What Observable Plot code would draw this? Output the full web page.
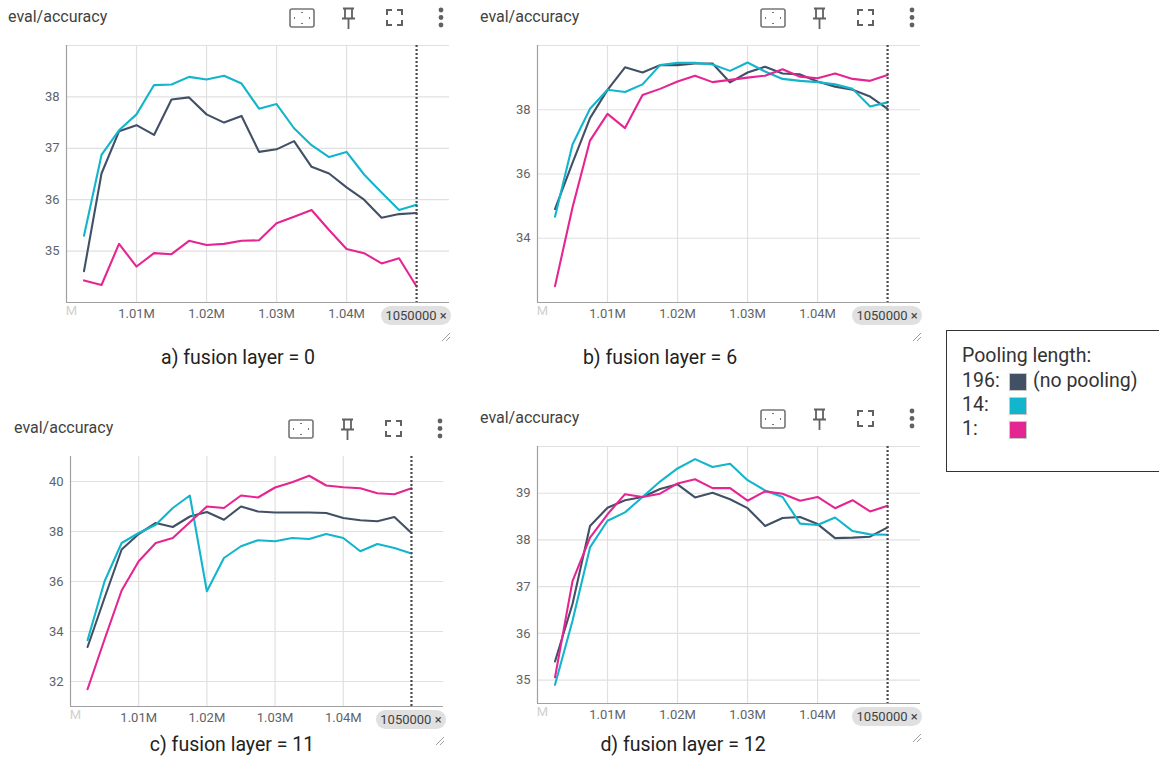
<!DOCTYPE html>
<html><head><meta charset="utf-8">
<script src="https://cdn.jsdelivr.net/npm/d3@7"></script>
<script src="https://cdn.jsdelivr.net/npm/@observablehq/plot@0.6"></script>
<style>
html,body{margin:0;padding:0;background:#fff;}
body{width:1159px;height:758px;position:relative;overflow:hidden;font-family:Roboto,"Noto Sans",sans-serif;}
.abs{position:absolute;}
.title{font-size:16px;color:#424242;white-space:nowrap;}
.cap{font-size:19.5px;color:#222;white-space:nowrap;transform:translate(-50%,-50%);}
.chip{background:#e0e0e0;border-radius:10px;font-size:13px;color:#424242;height:19px;line-height:19px;text-align:center;white-space:nowrap;}
.legend{border:1px solid #333;background:#fff;font-size:19.5px;color:#333;}
.sw{display:inline-block;width:16px;height:16px;border:1px solid #c8c8c8;}
</style></head><body>
<script>
const steps = [1002500,1005000,1007500,1010000,1012500,1015000,1017500,1020000,1022500,1025000,1027500,1030000,1032500,1035000,1037500,1040000,1042500,1045000,1047500,1050000];
const seriesNames = ["196", "14", "1"];
const seriesColors = ["#425066", "#12b5cb", "#e52592"];
const legendLabels = ["196:", "14:", "1:"];
const legendNotes = ["(no pooling)", "", ""];
const xTickValues = [1010000, 1020000, 1030000, 1040000];

const a196 = [34.61,36.51,37.33,37.45,37.26,37.95,37.99,37.66,37.50,37.63,36.93,36.98,37.14,36.64,36.51,36.24,36.00,35.65,35.72,35.74];
const a14  = [35.30,36.87,37.35,37.66,38.23,38.24,38.39,38.34,38.41,38.26,37.77,37.86,37.39,37.06,36.83,36.93,36.49,36.14,35.80,35.90];
const a1   = [34.43,34.34,35.14,34.70,34.96,34.94,35.20,35.12,35.14,35.20,35.21,35.54,35.67,35.80,35.41,35.04,34.96,34.76,34.86,34.31];

const b196 = [34.91,36.35,37.74,38.62,39.32,39.16,39.39,39.39,39.44,39.44,38.85,39.16,39.34,39.13,39.10,38.88,38.72,38.62,38.41,38.03];
const b14  = [34.67,36.92,38.03,38.62,38.55,38.79,39.39,39.46,39.46,39.41,39.21,39.47,39.19,38.96,38.90,38.86,38.79,38.65,38.10,38.23];
const b1   = [32.51,34.96,37.04,37.87,37.43,38.46,38.65,38.88,39.06,38.86,38.93,39.00,39.06,39.26,39.03,38.98,39.13,38.96,38.90,39.08];

const c196 = [33.38,35.35,37.28,37.90,38.34,38.18,38.60,38.78,38.47,39.00,38.80,38.76,38.76,38.76,38.74,38.54,38.45,38.41,38.58,37.94];
const c14  = [33.65,36.01,37.54,37.94,38.27,38.94,39.44,35.61,36.94,37.41,37.65,37.61,37.74,37.70,37.90,37.74,37.21,37.50,37.34,37.12];
const c1   = [31.69,33.69,35.64,36.81,37.54,37.74,38.37,39.00,38.94,39.44,39.36,39.76,39.97,40.23,39.84,39.77,39.73,39.53,39.49,39.73];

const d196 = [35.40,36.63,38.30,38.69,38.85,38.92,39.09,39.19,38.91,39.01,38.87,38.68,38.30,38.47,38.49,38.34,38.04,38.05,38.07,38.27];
const d14  = [34.90,36.27,37.84,38.41,38.59,38.92,39.25,39.53,39.73,39.56,39.63,39.28,39.06,38.92,38.35,38.32,38.48,38.19,38.12,38.11];
const d1   = [35.06,37.12,38.05,38.55,38.98,38.92,38.99,39.21,39.30,39.11,39.11,38.84,39.04,38.99,38.84,38.92,38.68,38.85,38.61,38.73];

const panels = [
  {title:"eval/accuracy", caption:"a) fusion layer = 0", vals:[a196,a14,a1], yDomain:[34,39], yTicks:[35,36,37,38], yGrid:[35,36,37,38,39],
   l:66, t:45, r:449, b:302, tx:8, ty:17, icx:289, icy:7, capx:238, capy:357},
  {title:"eval/accuracy", caption:"b) fusion layer = 6", vals:[b196,b14,b1], yDomain:[32,40], yTicks:[34,36,38], yGrid:[34,36,38,40],
   l:537, t:45, r:920, b:302, tx:480, ty:17, icx:760, icy:7, capx:660, capy:357},
  {title:"eval/accuracy", caption:"c) fusion layer = 11", vals:[c196,c14,c1], yDomain:[31,41], yTicks:[32,34,36,38,40], yGrid:[32,34,36,38,40],
   l:70, t:456, r:443, b:706, tx:14, ty:428, icx:288, icy:418, capx:232, capy:744},
  {title:"eval/accuracy", caption:"d) fusion layer = 12", vals:[d196,d14,d1], yDomain:[34.5,40], yTicks:[35,36,37,38,39], yGrid:[35,36,37,38,39,40],
   l:537, t:446, r:920, b:703, tx:480, ty:418, icx:760, icy:408, capx:683, capy:744}
];

const xDomain = [1000000, 1054700];

function add(html, x, y, cls, extra) {
  const d = document.createElement("div");
  d.className = "abs " + (cls || "");
  d.style.left = x + "px"; d.style.top = y + "px";
  if (extra) Object.assign(d.style, extra);
  d.innerHTML = html;
  document.body.appendChild(d);
  return d;
}

function icons(x, y) {
  const st = 'stroke="#757575" fill="none"';
  add(`<svg width="27" height="21"><rect x="1" y="1" width="24" height="18" rx="2" ${st} stroke-width="1.6"/>
    <path d="M12 5 L13 4 L14 5 M12 15 L13 16 L14 15 M6 9 L5 10 L6 11 M20 9 L21 10 L20 11" ${st} stroke-width="1"/></svg>`, x, y + 1);
  add(`<svg width="18" height="24"><path d="M3 1.5 H14 M5 1.5 V11 M12 1.5 V11 M2 11.5 H15 M8.5 12 V22" stroke="#616161" fill="none" stroke-width="1.8"/></svg>`, x + 51, y);
  add(`<svg width="18" height="18"><path d="M1 6 V1 H6 M11 1 H16 V6 M16 11 V16 H11 M6 16 H1 V11" stroke="#616161" fill="none" stroke-width="2"/></svg>`, x + 97, y + 2);
  add(`<svg width="8" height="22"><circle cx="4" cy="3" r="2.4" fill="#616161"/><circle cx="4" cy="10.5" r="2.4" fill="#616161"/><circle cx="4" cy="18" r="2.4" fill="#616161"/></svg>`, x + 148, y);
}

const ML = 60, MT = 12, MR = 14, MB = 30;
const last = steps[steps.length - 1];

panels.forEach(cfg => {
  const w = cfg.r - cfg.l, h = cfg.b - cfg.t;
  const data = [];
  seriesNames.forEach((s, k) => steps.forEach((st, i) => data.push({step: st, acc: cfg.vals[k][i], series: s})));
  const p = Plot.plot({
    width: w + ML + MR, height: h + MT + MB,
    marginLeft: ML, marginTop: MT, marginRight: MR, marginBottom: MB,
    style: {fontFamily: "Roboto, sans-serif", fontSize: "13px", color: "#5f6368", background: "transparent", overflow: "visible"},
    x: {domain: xDomain},
    y: {domain: cfg.yDomain},
    color: {domain: seriesNames, range: seriesColors},
    marks: [
      Plot.gridX(xTickValues, {stroke: "#e0e0e0", strokeOpacity: 1, strokeWidth: 1.2}),
      Plot.gridY(cfg.yGrid, {stroke: "#e0e0e0", strokeOpacity: 1, strokeWidth: 1.2}),
      Plot.axisX(xTickValues, {tickSize: 0, tickPadding: 6, label: null, tickFormat: d => (d / 1e6).toFixed(2) + "M", fill: "#5f6368"}),
      Plot.axisY(cfg.yTicks, {tickSize: 0, tickPadding: 7, label: null, tickFormat: d => String(d), fill: "#5f6368"}),
      Plot.text([xDomain[0]], {x: d => d, frameAnchor: "bottom", dy: 12, dx: 5, text: () => "M", fill: "#d0d0d0", fontSize: 13}),
      Plot.ruleY([cfg.yDomain[0]], {stroke: "#a0a0a0", strokeWidth: 1.2}),
      Plot.ruleX([xDomain[0]], {stroke: "#a0a0a0", strokeWidth: 1.2}),
      Plot.line(data, {x: "step", y: "acc", z: "series", stroke: "series", strokeWidth: 2.1, strokeLinejoin: "round"}),
      Plot.ruleX([last], {stroke: "#4a4a4a", strokeWidth: 2.2, strokeDasharray: "2,2"})
    ]
  });
  const wrap = add("", cfg.l - ML, cfg.t - MT);
  wrap.appendChild(p);
  const xs = p.scale("x");
  const cx = cfg.l - ML + xs.apply(last);
  add(`${last} ×`, cx - 35, cfg.b + 4, "chip", {width: "70px"});
  add(cfg.title, cfg.tx, cfg.ty - 10, "title");
  add(cfg.caption, cfg.capx, cfg.capy, "cap");
  icons(cfg.icx, cfg.icy);
  add(`<svg width="10" height="10"><path d="M1 9 L9 1 M5 9 L9 5" stroke="#9e9e9e" stroke-width="1"/></svg>`, cfg.r - 8, cfg.b + 25);
});

// legend
const rows = [`<div style="height:25px;line-height:24px">Pooling length:</div>`].concat(
  seriesNames.map((s, k) => `<div style="height:24px;line-height:24px;position:relative"><span style="position:absolute;left:0">${legendLabels[k]}</span><span class="sw" style="position:absolute;left:47px;top:4px;background:${seriesColors[k]}"></span><span style="position:absolute;left:71px">${legendNotes[k]}</span></div>`)
).join("");
add(rows, 946, 330, "legend", {width: "230px", height: "142px", padding: "13px 0 0 15px", boxSizing: "border-box"});
</script>
</body></html>
